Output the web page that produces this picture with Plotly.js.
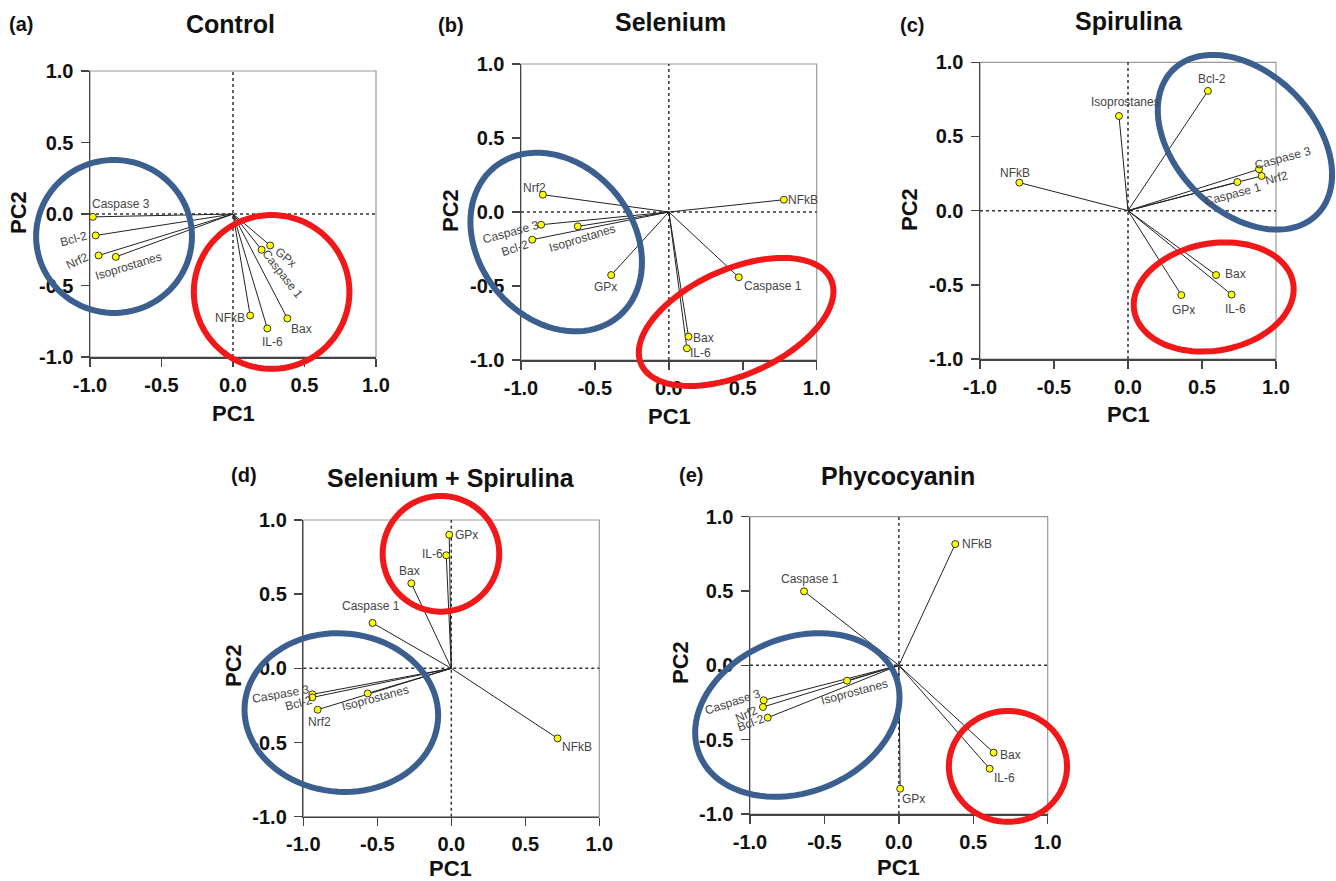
<!DOCTYPE html>
<html>
<head>
<meta charset="utf-8">
<script src="https://cdn.plot.ly/plotly-3.0.1.min.js"></script>
<style>html,body{margin:0;padding:0;background:#fff;}#chart{width:1336px;height:881px;}</style>
</head>
<body>
<div id="chart"></div>
<script>
// ---------- DATA ----------
const variables = ['Caspase 3', 'Bcl-2', 'Nrf2', 'Isoprostanes', 'GPx', 'Caspase 1', 'NFkB', 'IL-6', 'Bax'];

const controlPC1 = [-0.98, -0.96, -0.94, -0.82, 0.26, 0.20, 0.12, 0.24, 0.38];
const controlPC2 = [-0.02, -0.15, -0.29, -0.30, -0.22, -0.25, -0.71, -0.80, -0.73];

const seleniumPC1 = [-0.864, -0.924, -0.852, -0.616, -0.39, 0.473, 0.778, 0.122, 0.133];
const seleniumPC2 = [-0.086, -0.187, 0.117, -0.097, -0.426, -0.441, 0.083, -0.921, -0.842];

const spirulinaPC1 = [0.885, 0.54, 0.903, -0.061, 0.36, 0.739, -0.734, 0.70, 0.595];
const spirulinaPC2 = [0.279, 0.807, 0.234, 0.638, -0.569, 0.193, 0.189, -0.566, -0.434];

const selSpiPC1 = [-0.939, -0.939, -0.903, -0.565, -0.014, -0.532, 0.718, -0.034, -0.27];
const selSpiPC2 = [-0.175, -0.196, -0.279, -0.169, 0.901, 0.306, -0.472, 0.762, 0.573];

const phycoPC1 = [-0.908, -0.881, -0.913, -0.348, 0.009, -0.637, 0.379, 0.61, 0.637];
const phycoPC2 = [-0.235, -0.352, -0.28, -0.103, -0.83, 0.498, 0.816, -0.695, -0.587];

const panelTitles = ['Control', 'Selenium', 'Spirulina', 'Selenium + Spirulina', 'Phycocyanin'];
const panelLetters = ['(a)', '(b)', '(c)', '(d)', '(e)'];
const tickValues = [-1, -0.5, 0, 0.5, 1];
const tickLabels = ['-1.0', '-0.5', '0.0', '0.5', '1.0'];

// ---------- STYLE / LAYOUT (positions in page px) ----------
const W = 1336, H = 881;
const panels = [
  {x: controlPC1,   y: controlPC2,   box: [90, 376, 71, 357],      title: [230, 24],  letter: [21, 24],  pc2: [18, 213],  pc1: [233, 414]},
  {x: seleniumPC1,  y: seleniumPC2,  box: [521, 816.7, 64, 360],   title: [670, 22],  letter: [451, 25], pc2: [451, 211], pc1: [669, 416]},
  {x: spirulinaPC1, y: spirulinaPC2, box: [980, 1276, 62.3, 359],  title: [1129, 21], letter: [912, 25], pc2: [909, 210], pc1: [1128, 415]},
  {x: selSpiPC1,    y: selSpiPC2,    box: [303.3, 599.3, 520, 816.7], title: [451, 478], letter: [244, 475], pc2: [233, 666], pc1: [450, 868]},
  {x: phycoPC1,     y: phycoPC2,     box: [750, 1047.7, 516.7, 814], title: [898, 476], letter: [691, 475], pc2: [680, 663], pc1: [898, 867]}
];

// label offsets [xshift, yshift, angle] per variable (same order as variables)
const labelStyle = [
  [[28,13,0],[-22,-4,-15],[-21,-6,-25],[13,-9,-17],[15,-12,40],[21,-24,52],[-20,-2,0],[5,-14,0],[14,-11,0]],
  [[-30,-7,-15],[-17,-8,-18],[-8,7,0],[5,-12,-17],[-6,-12,0],[34,-9,0],[19,0,0],[14,-5,0],[15,-1,0]],
  [[24,11,-15],[4,12,0],[15,-2,-15],[7,14,0],[2,-15,0],[-4,-12,-15],[-4,10,0],[4,-14,0],[19,1,0]],
  [[-31,0,-10],[-13,-6,-15],[2,-12,0],[8,-5,-15],[17,0,0],[-2,17,0],[19,-9,0],[-14,1,0],[-2,12,0]],
  [[-31,-2,-18],[-17,-5,-20],[-16,-7,-25],[7,-11,-15],[13,-10,0],[6,12,0],[22,0,0],[15,-9,0],[17,-2,0]]
];

// highlight ellipses: [cx, cy, a, b, angleDeg] in PC units
const ellipses = [
  {blue: [-0.832, -0.157, 0.545, 0.535, 0], red: [0.27, -0.545, 0.544, 0.538, 0]},
  {blue: [-0.762, -0.203, 0.656, 0.52, -50], red: [0.455, -0.743, 0.703, 0.356, 24]},
  {blue: [0.79, 0.461, 0.689, 0.468, -45], red: [0.579, -0.582, 0.545, 0.361, 10]},
  {blue: [-0.743, -0.298, 0.655, 0.534, -5], red: [-0.07, 0.772, 0.394, 0.39, 0]},
  {blue: [-0.682, -0.334, 0.71, 0.52, 22], red: [0.733, -0.68, 0.397, 0.373, 0]}
];

const FONT = 'Liberation Sans, Arial, Helvetica, sans-serif';
const BLUE = '#3b5f8e';
const RED = '#f01818';

const fx = px => px / W;
const fy = py => 1 - py / H;

const data = [];
const layout = {
  width: W, height: H,
  margin: {l: 0, r: 0, t: 0, b: 0},
  paper_bgcolor: '#fff', plot_bgcolor: '#fff',
  showlegend: false,
  shapes: [], annotations: []
};

panels.forEach((p, i) => {
  const n = i === 0 ? '' : String(i + 1);
  const xa = 'x' + n, ya = 'y' + n;
  const xd = [fx(p.box[0]), fx(p.box[1])];
  const yd = [fy(p.box[3]), fy(p.box[2])];
  const axCommon = {
    range: [-1, 1], tickvals: tickValues, ticktext: tickLabels,
    ticks: 'outside', ticklen: 8, tickwidth: 1.5, tickcolor: '#444',
    showline: true, linecolor: '#444', linewidth: 1.5,
    showgrid: false, zeroline: false, fixedrange: true,
    tickfont: {family: FONT, size: 20, color: '#111', weight: 'bold'},
    ticklabelstandoff: 1
  };
  layout['xaxis' + n] = Object.assign({}, axCommon, {domain: xd, anchor: ya});
  layout['yaxis' + n] = Object.assign({}, axCommon, {domain: yd, anchor: xa, ticklabelstandoff: 3});

  // vectors from origin
  const lx = [], ly = [];
  p.x.forEach((v, k) => { lx.push(0, v, null); ly.push(0, p.y[k], null); });
  data.push({type: 'scatter', mode: 'lines', x: lx, y: ly, xaxis: xa, yaxis: ya,
    line: {color: '#222', width: 1}, hoverinfo: 'skip'});
  data.push({type: 'scatter', mode: 'markers', x: p.x, y: p.y, xaxis: xa, yaxis: ya,
    text: variables, cliponaxis: false,
    marker: {size: 7, color: '#ffff00', line: {color: '#333', width: 1}}});

  // frame (top/right in grey)
  layout.shapes.push({type: 'rect', xref: 'paper', yref: 'paper', x0: xd[0], x1: xd[1], y0: yd[0], y1: yd[1],
    line: {color: '#999', width: 1.2}, layer: 'below'});
  // dotted zero lines
  layout.shapes.push({type: 'line', xref: xa, yref: ya + ' domain', x0: 0, x1: 0, y0: 0, y1: 1,
    line: {color: '#333', width: 1.5, dash: 'dot'}, layer: 'below'});
  layout.shapes.push({type: 'line', xref: xa + ' domain', yref: ya, x0: 0, x1: 1, y0: 0, y1: 0,
    line: {color: '#333', width: 1.5, dash: 'dot'}, layer: 'below'});

  // ellipses (paper coords so they may extend past the frame)
  const ell = (e, col) => {
    const [cx, cy, a, b, ang] = e;
    const t = ang * Math.PI / 180;
    let path = '';
    for (let k = 0; k <= 90; k++) {
      const u = 2 * Math.PI * k / 90;
      const ex = cx + a * Math.cos(u) * Math.cos(t) - b * Math.sin(u) * Math.sin(t);
      const ey = cy + a * Math.cos(u) * Math.sin(t) + b * Math.sin(u) * Math.cos(t);
      const px = xd[0] + (ex + 1) / 2 * (xd[1] - xd[0]);
      const py = yd[0] + (ey + 1) / 2 * (yd[1] - yd[0]);
      path += (k === 0 ? 'M' : 'L') + px.toFixed(5) + ',' + py.toFixed(5);
    }
    path += 'Z';
    layout.shapes.push({type: 'path', xref: 'paper', yref: 'paper', path: path,
      line: {color: col, width: 6}, layer: 'above'});
  };
  ell(ellipses[i].blue, BLUE);
  ell(ellipses[i].red, RED);

  // variable labels
  variables.forEach((name, k) => {
    const s = labelStyle[i][k];
    layout.annotations.push({xref: xa, yref: ya, x: p.x[k], y: p.y[k], text: name,
      showarrow: false, xanchor: 'center', yanchor: 'middle',
      xshift: s[0], yshift: s[1], textangle: s[2],
      font: {family: FONT, size: 12, color: '#444'}});
  });

  // titles
  layout.annotations.push({xref: 'paper', yref: 'paper', x: fx(p.title[0]), y: fy(p.title[1]),
    text: '<b>' + panelTitles[i] + '</b>', showarrow: false, xanchor: 'center', yanchor: 'middle',
    font: {family: FONT, size: 25, color: '#111'}});
  layout.annotations.push({xref: 'paper', yref: 'paper', x: fx(p.letter[0]), y: fy(p.letter[1]),
    text: '<b>' + panelLetters[i] + '</b>', showarrow: false, xanchor: 'center', yanchor: 'middle',
    font: {family: FONT, size: 20, color: '#111'}});
  layout.annotations.push({xref: 'paper', yref: 'paper', x: fx(p.pc1[0]), y: fy(p.pc1[1]),
    text: '<b>PC1</b>', showarrow: false, xanchor: 'center', yanchor: 'middle', borderpad: 0,
    font: {family: FONT, size: 22, color: '#111'}});
  layout.annotations.push({xref: 'paper', yref: 'paper', x: fx(p.pc2[0]), y: fy(p.pc2[1]),
    text: '<b>PC2</b>', showarrow: false, xanchor: 'center', yanchor: 'middle', textangle: -90,
    font: {family: FONT, size: 22, color: '#111'}});
});

Plotly.newPlot('chart', data, layout, {staticPlot: true});
</script>
</body>
</html>
